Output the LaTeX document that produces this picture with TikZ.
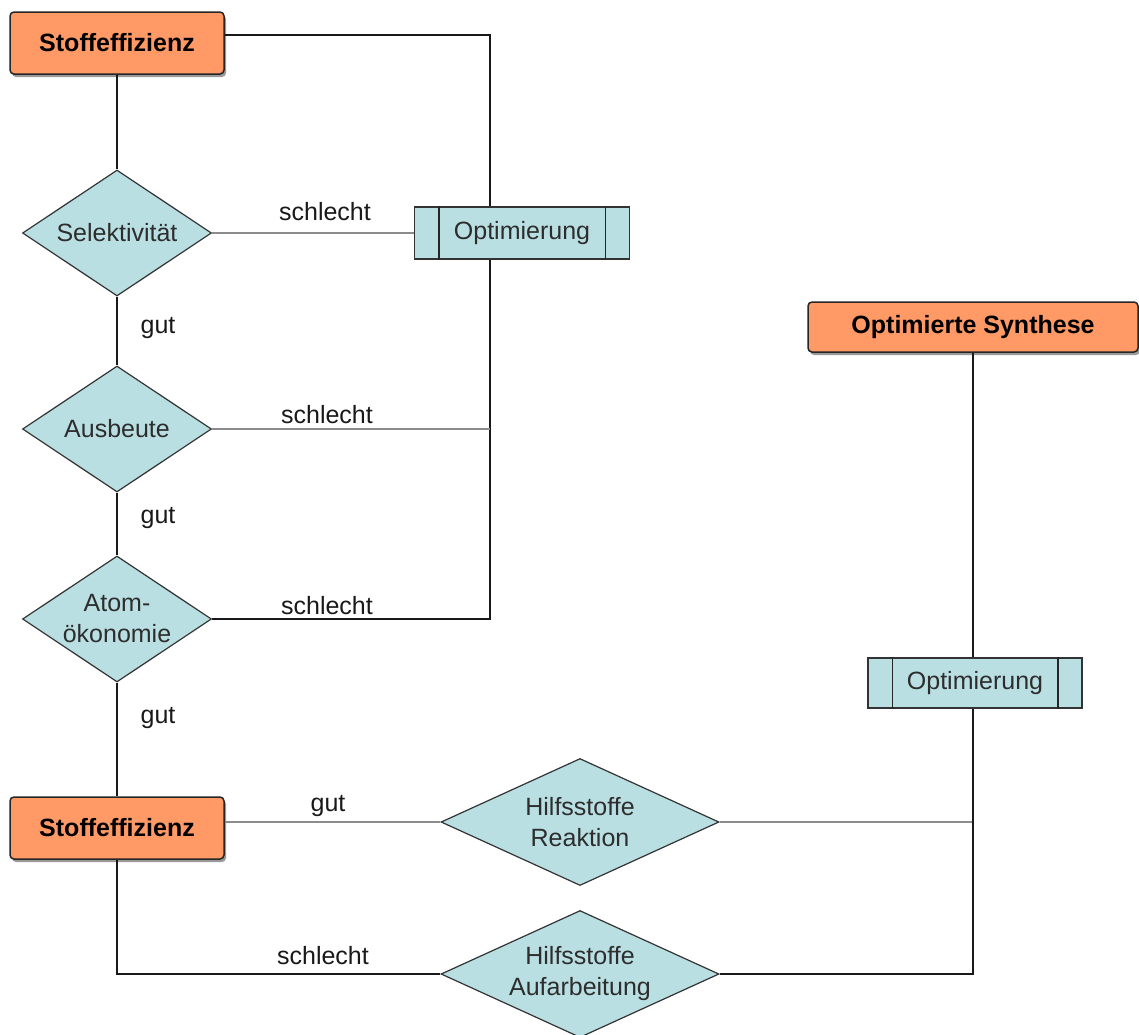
\documentclass[tikz,border=0pt]{standalone}
\usepackage{fontspec}
\setmainfont{Liberation Sans}
\usetikzlibrary{shapes.geometric,shadows}
\definecolor{orangefill}{RGB}{255,153,102}
\definecolor{bluefill}{RGB}{185,223,227}
\definecolor{txtgray}{RGB}{45,45,45}
\begin{document}
\begin{tikzpicture}[x=1pt,y=-1pt,
 font=\fontsize{25}{31}\selectfont,
 startbox/.style={draw=black!85, line width=1.5pt, fill=orangefill, rounded corners=4pt,
   minimum width=214pt, minimum height=62pt, inner sep=0pt,
   font=\fontsize{25}{31}\selectfont\bfseries,
   drop shadow={shadow xshift=2pt, shadow yshift=-3pt, fill=black!40, opacity=1}},
 decision/.style={diamond, draw=black!80, line width=1.2pt, fill=bluefill, inner sep=0pt,
   aspect=1.5, minimum width=189pt, minimum height=126pt, text=txtgray, align=center},
 widedecision/.style={decision, aspect=2.19, minimum width=278pt, minimum height=127pt},
 procbox/.style={draw=black!80, line width=1.5pt, fill=bluefill, minimum width=215pt,
   minimum height=52pt, inner sep=0pt, text=txtgray},
 conn/.style={line width=2pt, black!90},
 lconn/.style={line width=2pt, black!45},
 lbl/.style={inner sep=0pt, text=black!90}]
\useasboundingbox (0,0) rectangle (1139,1034);
\fill[white] (0,0) rectangle (1139,1034);

% nodes
\node[startbox] (stoff1) at (117,43) {Stoffeffizienz};
\node[decision] (sel) at (117,233) {Selektivität};
\node[decision] (aus) at (117,429) {Ausbeute};
\node[decision] (atom) at (117,619) {Atom-\\ökonomie};
\node[startbox] (stoff2) at (117,828) {Stoffeffizienz};
\node[procbox] (opt1) at (522,233) {Optimierung};
\node[widedecision] (reak) at (580,822) {Hilfsstoffe\\Reaktion};
\node[widedecision] (aufa) at (580,974) {Hilfsstoffe\\Aufarbeitung};
\node[startbox, minimum width=330pt, minimum height=50pt] (synth) at (973,327) {Optimierte Synthese};
\node[procbox, minimum width=214pt, minimum height=50pt] (opt2) at (975,683) {Optimierung};

\foreach \n in {opt1,opt2} {
  \draw[black!85, line width=1.5pt] ([xshift=25pt]\n.north west) -- ([xshift=25pt]\n.south west);
  \draw[black!85, line width=1.5pt] ([xshift=-25pt]\n.north east) -- ([xshift=-25pt]\n.south east);
}

% connectors
\coordinate (j1) at (490,35);
\coordinate (j2) at (490,619);
\coordinate (j3) at (973,822);
\draw[conn] (stoff1.east |- j1) -- (j1) -- (j1 |- opt1.north);
\draw[conn] (stoff1) -- (sel);
\draw[conn] (sel) -- (aus);
\draw[conn] (aus) -- (atom);
\draw[conn] (atom) -- (stoff2);
\draw[lconn] (sel) -- (opt1);
\draw[conn] (j1 |- opt1.south) -- (j2) -- (atom.east);
\draw[lconn] (aus.east) -- (aus.east -| j1);
\draw[lconn] (stoff2.east |- reak) -- (reak.west);
\draw[lconn] (reak.east) -- (j3);
\draw[conn] (synth.south) -- (synth.south |- opt2.north);
\draw[conn] (synth.south |- opt2.south) -- (synth.south |- aufa) -- (aufa.east);
\draw[conn] (stoff2.south) -- (stoff2.south |- aufa) -- (aufa.west);

% labels
\node[lbl] (l1) at (325,212) {schlecht};
\node[lbl] (l2) at (158,328) {gut};
\node[lbl] (l3) at (327,415) {schlecht};
\node[lbl] (l4) at (158,518) {gut};
\node[lbl] (l5) at (327,606) {schlecht};
\node[lbl] (l6) at (158,718) {gut};
\node[lbl] (l7) at (328,806) {gut};
\node[lbl] (l8) at (323,956) {schlecht};
\end{tikzpicture}
\end{document}
